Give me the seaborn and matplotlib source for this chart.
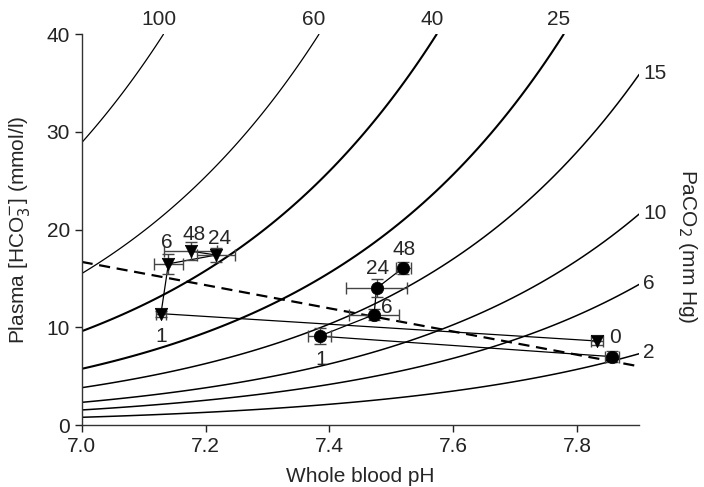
import numpy as np
import pandas as pd
import matplotlib
matplotlib.use("Agg")
import matplotlib.pyplot as plt
import seaborn as sns

# PaCO2 isopleths (mm Hg): HCO3 at pH 7.0 and end point
paco2_labels = ["100", "60", "40", "25", "15", "10", "6", "2"]
iso_start_hco3 = [28.9, 15.5, 9.6, 5.75, 3.82, 2.32, 1.54, 0.79]
iso_end_ph = [7.132, 7.383, 7.573, 7.778, 7.9, 7.9, 7.9, 7.9]
iso_end_hco3 = [40.0, 40.0, 40.0, 40.0, 35.9, 21.6, 14.4, 7.3]
iso_lw = [0.9, 0.9, 1.5, 1.5, 1.1, 1.1, 1.1, 1.1]

# Series A (triangles) — time points (h)
tri_time = ["0", "1", "6", "24", "48"]
tri_ph = [7.832, 7.128, 7.140, 7.217, 7.176]
tri_hco3 = [8.6, 11.4, 16.5, 17.4, 17.8]
tri_xerr = [0.010, 0.008, 0.023, 0.031, 0.043]
tri_yerr = [0.4, 0.3, 1.0, 0.7, 0.9]

# Series B (circles)
cir_time = ["0", "1", "6", "24", "48"]
cir_ph = [7.856, 7.384, 7.472, 7.476, 7.519]
cir_hco3 = [7.0, 9.1, 11.3, 14.0, 16.1]
cir_xerr = [0.012, 0.019, 0.040, 0.049, 0.012]
cir_yerr = [0.6, 0.8, 0.6, 0.9, 0.6]

# Dashed buffer line
dash_ph = [7.0, 7.9]
dash_hco3 = [16.7, 6.0]

sns.set_style("ticks")
plt.rcParams["font.family"] = ["Liberation Sans", "DejaVu Sans"]

fig = plt.figure(figsize=(7.04, 4.87), dpi=100)
ax = fig.add_axes([0.116, 0.1273, 0.792, 0.8023])

fs = 15

# Isopleths
for lab, h0, pe, he, lw in zip(paco2_labels, iso_start_hco3, iso_end_ph, iso_end_hco3, iso_lw):
    n = 80
    ph = np.linspace(7.0, pe, n)
    hc = h0 * (he / h0) ** ((ph - 7.0) / (pe - 7.0))
    df = pd.DataFrame({"ph": ph, "hco3": hc})
    sns.lineplot(data=df, x="ph", y="hco3", ax=ax, color="black", lw=lw,
                 sort=False, estimator=None)
    if pe < 7.89:
        ax.text(pe - 0.008, 40.5, lab, ha="center", va="bottom", fontsize=fs,
                clip_on=False)
    else:
        ax.text(7.906, he + 0.1, lab, ha="left", va="center", fontsize=fs,
                clip_on=False)

# Dashed line
sns.lineplot(x=dash_ph, y=dash_hco3, ax=ax, color="black", lw=1.6,
             linestyle=(0, (5, 3)), sort=False, estimator=None)

# Series lines + error bars + markers
for phs, hcs, xe, ye, mk in [(tri_ph, tri_hco3, tri_xerr, tri_yerr, "v"),
                              (cir_ph, cir_hco3, cir_xerr, cir_yerr, "o")]:
    sns.lineplot(x=phs, y=hcs, ax=ax, color="black", lw=0.9, sort=False,
                 estimator=None)
    ax.errorbar(phs, hcs, xerr=xe, yerr=ye, fmt="none", ecolor="#444444",
                elinewidth=1.0, capsize=4, capthick=1.0, zorder=3)
    sns.scatterplot(x=phs, y=hcs, ax=ax, marker=mk, color="black", s=80,
                    edgecolor="black", linewidth=0.5, zorder=4)

# Time labels
ax.text(7.851, 9.0, "0", ha="left", va="center", fontsize=fs)
ax.text(7.128, 10.0, "1", ha="center", va="top", fontsize=fs)
ax.text(7.137, 17.7, "6", ha="center", va="bottom", fontsize=fs)
ax.text(7.181, 18.5, "48", ha="center", va="bottom", fontsize=fs)
ax.text(7.222, 18.1, "24", ha="center", va="bottom", fontsize=fs)

ax.text(7.386, 7.7, "1", ha="center", va="top", fontsize=fs)
ax.text(7.483, 12.0, "6", ha="left", va="center", fontsize=fs)
ax.text(7.478, 15.0, "24", ha="center", va="bottom", fontsize=fs)
ax.text(7.520, 17.0, "48", ha="center", va="bottom", fontsize=fs)

ax.set_xlim(7.0, 7.9)
ax.set_ylim(0, 40)
ax.set_xticks([7.0, 7.2, 7.4, 7.6, 7.8])
ax.set_xticklabels(["7.0", "7.2", "7.4", "7.6", "7.8"])
ax.set_yticks([0, 10, 20, 30, 40])
ax.tick_params(labelsize=fs, length=5, width=1, colors="#222222")
sns.despine(ax=ax)
for s in ["left", "bottom"]:
    ax.spines[s].set_linewidth(1.0)
    ax.spines[s].set_color("#333333")

ax.set_xlabel("Whole blood pH", fontsize=fs, va="center")
ax.set_ylabel("Plasma [HCO$_3^{-}$] (mmol/l)", fontsize=fs, va="center")
ax.xaxis.set_label_coords(0.5, -0.132)
ax.yaxis.set_label_coords(-0.112, 0.5)
fig.text(0.977, 0.495, "PaCO$_2$ (mm Hg)", rotation=-90, ha="center",
         va="center", fontsize=fs)

fig.savefig("out.png", dpi=100)
